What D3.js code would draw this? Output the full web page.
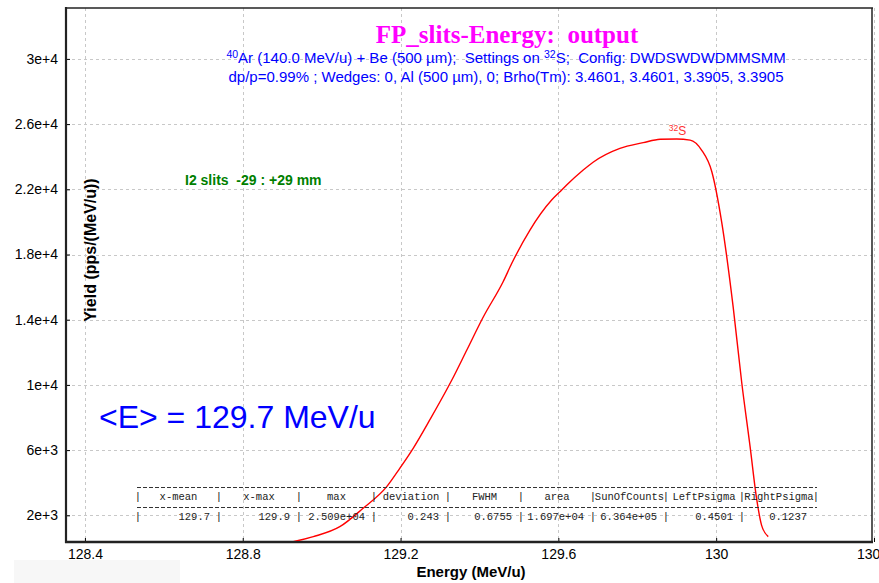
<!DOCTYPE html>
<html>
<head>
<meta charset="utf-8">
<script src="https://cdn.jsdelivr.net/npm/d3@7"></script>
<style>
  html, body { margin: 0; padding: 0; background: #fff; overflow: hidden; }
  svg { display: block; }
</style>
</head>
<body>
<script>
// ---------------- DATA ----------------
const energy = [128.920, 128.979, 129.046, 129.105, 129.165, 129.198, 129.232, 129.274, 129.330, 129.368,
                129.410, 129.460, 129.482, 129.528, 129.583, 129.604, 129.621, 129.663, 129.688, 129.756,
                129.815, 129.858, 129.900, 129.934, 129.963, 129.989, 130.014, 130.043, 130.065, 130.086,
                130.103, 130.115, 130.132];
const yieldVals = [340, 690, 1300, 2430, 3760, 4880, 6110, 7850, 10300, 12140,
                   14180, 16330, 17460, 19500, 21340, 21850, 22260, 23180, 23660, 24510,
                   24860, 25070, 25090, 25020, 24410, 23080, 19990, 14800, 10100, 6210,
                   2940, 1400, 690];
const xTicks = [128.4, 128.8, 129.2, 129.6, 130, 130.4];
const xTickLabels = ["128.4", "128.8", "129.2", "129.6", "130", "130.4"];
const yTicks = [2000, 6000, 10000, 14000, 18000, 22000, 26000, 30000];
const yTickLabels = ["2e+3", "6e+3", "1e+4", "1.4e+4", "1.8e+4", "2.2e+4", "2.6e+4", "3e+4"];
const tableHeaders = ["x-mean", "x-max", "max", "deviation", "FWHM", "area", "SunOfCounts", "LeftPsigma", "RightPsigma"];
const tableValues = ["129.7", "129.9", "2.509e+04", "0.243", "0.6755", "1.697e+04", "6.364e+05", "0.4501", "0.1237"];
const titleText = "FP_slits-Energy:  output";
const meanText = "<E> = 129.7 MeV/u";
const slitText = "I2 slits  -29 : +29 mm";
const peakLabel = ["32", "S"];
// --------------------------------------

const W = 879, H = 583;
const L = 66, R = 872, T = 8, B = 542;
const svg = d3.select("body").append("svg").attr("width", W).attr("height", H);

const x = d3.scaleLinear().domain([128.352, 130.395]).range([L, R]);
const y = d3.scaleLinear().domain([362, 33123]).range([B, T]);

svg.append("rect").attr("x", 14).attr("y", 560).attr("width", 166).attr("height", 23).attr("fill", "#f7f7f7");

// grid
const grid = svg.append("g").attr("stroke", "#c8c8c8").attr("stroke-dasharray", "3,3").attr("stroke-width", 1);
grid.selectAll(".gx").data(xTicks).join("line")
  .attr("x1", d => Math.round(x(d)) + 0.5).attr("x2", d => Math.round(x(d)) + 0.5)
  .attr("y1", T).attr("y2", B);
grid.selectAll(".gy").data(yTicks).join("line")
  .attr("y1", d => Math.round(y(d)) + 0.5).attr("y2", d => Math.round(y(d)) + 0.5)
  .attr("x1", L).attr("x2", R);

// axes
const yAxis = d3.axisLeft(y).tickValues(yTicks).tickFormat((d, i) => yTickLabels[i]).tickSize(-4).tickPadding(8);
const gy = svg.append("g").attr("transform", `translate(${L},0)`).call(yAxis);
gy.select(".domain").remove();
gy.selectAll("text").attr("font-family", "Liberation Sans, Arial, sans-serif").attr("font-size", 14).attr("fill", "#000");
gy.selectAll("line").attr("stroke", "#000");

const xAxis = d3.axisBottom(x).tickValues(xTicks).tickFormat((d, i) => xTickLabels[i]).tickSize(-4).tickPadding(7);
const gx = svg.append("g").attr("transform", `translate(0,${B})`).call(xAxis);
gx.select(".domain").remove();
gx.selectAll("text").attr("font-family", "Liberation Sans, Arial, sans-serif").attr("font-size", 14).attr("fill", "#000");
gx.selectAll("line").attr("stroke", "#000");

// frame
svg.append("line").attr("x1", L).attr("x2", R + 1).attr("y1", T).attr("y2", T).attr("stroke", "#222").attr("stroke-width", 1.5);
svg.append("line").attr("x1", R).attr("x2", R).attr("y1", T).attr("y2", B).attr("stroke", "#222").attr("stroke-width", 1.5);
svg.append("line").attr("x1", L).attr("x2", L).attr("y1", T - 1).attr("y2", B + 1).attr("stroke", "#222").attr("stroke-width", 2.2);
svg.append("line").attr("x1", L - 1).attr("x2", R + 1).attr("y1", B).attr("y2", B).attr("stroke", "#222").attr("stroke-width", 2.6);

// curve
svg.append("clipPath").attr("id", "clip").append("rect").attr("x", L).attr("y", T).attr("width", R - L).attr("height", B - T - 1);
const line = d3.line().x(d => x(d[0])).y(d => y(d[1])).curve(d3.curveMonotoneX);
svg.append("path").datum(energy.map((e, i) => [e, yieldVals[i]]))
  .attr("clip-path", "url(#clip)")
  .attr("d", line).attr("fill", "none").attr("stroke", "#ff0000").attr("stroke-width", 1.4);

// peak label
const pk = d3.maxIndex(yieldVals);
const pl = svg.append("text").attr("x", x(energy[pk]) - 8).attr("y", y(yieldVals[pk]) - 4)
  .attr("font-family", "Liberation Sans, Arial, sans-serif").attr("fill", "#ff3030");
pl.append("tspan").attr("font-size", 8.5).attr("dy", -4).text(peakLabel[0]);
pl.append("tspan").attr("font-size", 12).attr("dy", 4).text(peakLabel[1]);

// title
svg.append("text").attr("x", 507).attr("y", 43).attr("text-anchor", "middle")
  .attr("font-family", "Liberation Serif, Times New Roman, serif").attr("font-weight", "bold")
  .attr("font-size", 25).attr("fill", "#ff00ff").attr("xml:space", "preserve").text(titleText);

const sub1 = svg.append("text").attr("x", 506).attr("y", 63).attr("text-anchor", "middle")
  .attr("font-family", "Liberation Sans, Arial, sans-serif").attr("font-size", 15).attr("fill", "#0000ff")
  .attr("xml:space", "preserve");
sub1.append("tspan").attr("font-size", 10.5).attr("dy", -5).text("40");
sub1.append("tspan").attr("dy", 5).text("Ar (140.0 MeV/u) + Be (500 µm);  Settings on ");
sub1.append("tspan").attr("font-size", 10.5).attr("dy", -5).text("32");
sub1.append("tspan").attr("dy", 5).text("S;  Config: DWDSWDWDMMSMM");

svg.append("text").attr("x", 506).attr("y", 82).attr("text-anchor", "middle")
  .attr("font-family", "Liberation Sans, Arial, sans-serif").attr("font-size", 15).attr("fill", "#0000ff")
  .text("dp/p=0.99% ; Wedges: 0, Al (500 µm), 0; Brho(Tm): 3.4601, 3.4601, 3.3905, 3.3905");

svg.append("text").attr("x", 185).attr("y", 185)
  .attr("font-family", "Liberation Sans, Arial, sans-serif").attr("font-weight", "bold")
  .attr("font-size", 14).attr("fill", "#008000").attr("xml:space", "preserve").text(slitText);

svg.append("text").attr("x", 99).attr("y", 428)
  .attr("font-family", "Liberation Sans, Arial, sans-serif")
  .attr("font-size", 32).attr("fill", "#0000ff").text(meanText);

// axis titles
svg.append("text").attr("transform", "translate(96,250) rotate(-90)").attr("text-anchor", "middle")
  .attr("font-family", "Liberation Sans, Arial, sans-serif").attr("font-weight", "bold")
  .attr("font-size", 16).attr("fill", "#000").text("Yield (pps/(MeV/u))");
svg.append("text").attr("x", 471).attr("y", 577).attr("text-anchor", "middle")
  .attr("font-family", "Liberation Sans, Arial, sans-serif").attr("font-weight", "bold")
  .attr("font-size", 15).attr("fill", "#000").text("Energy (MeV/u)");

// statistics table
const colEdges = [138, 219, 299, 374, 448, 521, 593, 666, 742, 816];
const tg = svg.append("g").attr("font-family", "Liberation Mono, Courier New, monospace")
  .attr("font-size", 10.5).attr("fill", "#222");
[487, 507].forEach(yy => {
  tg.append("line").attr("x1", 137).attr("x2", 817).attr("y1", yy + 0.5).attr("y2", yy + 0.5)
    .attr("stroke", "#333").attr("stroke-dasharray", "4,2").attr("stroke-width", 1);
});
tg.selectAll(".sep1").data(colEdges).join("text").attr("x", d => d).attr("y", 500).attr("text-anchor", "middle").text("|");
tg.selectAll(".sep2").data(colEdges.slice(0, 9)).join("text").attr("x", d => d).attr("y", 520).attr("text-anchor", "middle").text("|");
tg.selectAll(".hd").data(tableHeaders).join("text")
  .attr("x", (d, i) => (colEdges[i] + colEdges[i + 1]) / 2).attr("y", 500).attr("text-anchor", "middle").text(d => d);
tg.selectAll(".vl").data(tableValues).join("text")
  .attr("x", (d, i) => colEdges[i + 1] - 9).attr("y", 520).attr("text-anchor", "end").text(d => d);
</script>
</body>
</html>
